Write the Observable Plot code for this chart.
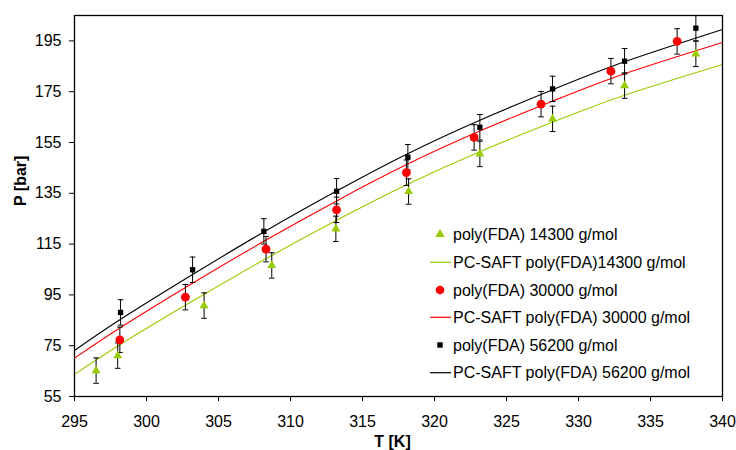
<!DOCTYPE html>
<html><head><meta charset="utf-8">
<script src="https://cdn.jsdelivr.net/npm/d3@7"></script>
<script src="https://cdn.jsdelivr.net/npm/@observablehq/plot@0.6"></script>
<style>
body{margin:0;background:#fff;}
#wrap{position:relative;width:736px;height:450px;font-family:"Liberation Sans",Arial,sans-serif;}
#legend{position:absolute;left:0;top:0;pointer-events:none;}
</style></head><body><div id="wrap"></div>
<script>
// Experimental data
const T14300 = [296.5, 298.0, 304.0, 308.7, 313.15, 318.2, 323.15, 328.2, 333.2, 338.15];
const P14300 = [65.2, 71.1, 90.8, 106.6, 121.0, 135.7, 150.5, 164.3, 177.4, 189.9];
const T30000 = [298.15, 302.7, 308.3, 313.2, 318.05, 322.75, 327.4, 332.25, 336.85];
const P30000 = [77.3, 94.1, 113.0, 128.5, 143.1, 157.0, 170.1, 183.1, 194.8];
const T56200 = [298.2, 303.2, 308.15, 313.2, 318.15, 323.15, 328.2, 333.2, 338.15];
const P56200 = [88.1, 104.9, 120.0, 135.8, 149.2, 161.0, 176.1, 187.0, 200.0];
const errP = 5;
// PC-SAFT curves
const Tfit = [295, 298.15, 303.2, 308.15, 313.2, 318.1, 323.15, 328.2, 333.2, 340];
const fit14300 = [63.7, 75.4, 92.6, 108.8, 124.4, 138.5, 151.4, 163.0, 173.6, 185.7];
const fit30000 = [70.1, 82.0, 99.6, 116.1, 132.0, 146.4, 159.5, 171.3, 182.1, 194.4];
const fit56200 = [73.1, 85.2, 103.0, 119.8, 135.9, 150.5, 163.8, 175.8, 186.8, 199.5];
// ticks
const xTicks = [295, 300, 305, 310, 315, 320, 325, 330, 335, 340];
const yTicks = [55, 75, 95, 115, 135, 155, 175, 195];
const legendLabels = [
  "poly(FDA) 14300 g/mol",
  "PC-SAFT poly(FDA)14300 g/mol",
  "poly(FDA) 30000 g/mol",
  "PC-SAFT poly(FDA) 30000 g/mol",
  "poly(FDA) 56200 g/mol",
  "PC-SAFT poly(FDA) 56200 g/mol"
];
const green = "#99cc00", red = "#ff0000", black = "#000000";

const pts = (T, P) => T.map((t, i) => ({T: t, P: P[i]}));
const d14 = pts(T14300, P14300), d30 = pts(T30000, P30000), d56 = pts(T56200, P56200);
const f14 = pts(Tfit, fit14300), f30 = pts(Tfit, fit30000), f56 = pts(Tfit, fit56200);
const allPts = [...d14, ...d30, ...d56];

const capSymbol = {draw(ctx, size) { const w = 2.8; ctx.moveTo(-w, 0); ctx.lineTo(w, 0); }};

const chart = Plot.plot({
  width: 736, height: 450,
  marginLeft: 74, marginRight: 14, marginTop: 15, marginBottom: 54,
  style: {fontFamily: "'Liberation Sans', Arial, sans-serif", fontSize: "16px", color: "#000", background: "#fff", overflow: "visible"},
  x: {domain: [295, 340]},
  y: {domain: [55, 205]},
  marks: [
    Plot.axisX({ticks: xTicks, tickSize: 5, tickPadding: 14, label: null, tickFormat: d => String(d), stroke: "#000"}),
    Plot.axisY({ticks: yTicks, tickSize: 5, tickPadding: 8, label: null, tickFormat: d => String(d), stroke: "#000"}),
    Plot.text(["T [K]"], {frameAnchor: "bottom", dy: 50, dx: -6, fontWeight: "bold", fontSize: 16}),
    Plot.text(["P [bar]"], {frameAnchor: "left", dx: -54, rotate: -90, fontWeight: "bold", fontSize: 16}),
    Plot.line(f14, {x: "T", y: "P", stroke: green, strokeWidth: 1.1, curve: "natural"}),
    Plot.line(f30, {x: "T", y: "P", stroke: red, strokeWidth: 1.1, curve: "natural"}),
    Plot.line(f56, {x: "T", y: "P", stroke: black, strokeWidth: 1.1, curve: "natural"}),
    Plot.ruleX(allPts, {x: "T", y1: d => d.P - errP, y2: d => d.P + errP, stroke: "#000", strokeWidth: 1}),
    Plot.dot(allPts, {x: "T", y: d => d.P - errP, symbol: capSymbol, r: 2, stroke: "#000", strokeWidth: 1, fill: "none"}),
    Plot.dot(allPts, {x: "T", y: d => d.P + errP, symbol: capSymbol, r: 2, stroke: "#000", strokeWidth: 1, fill: "none"}),
    Plot.dot(d14, {x: "T", y: "P", symbol: "triangle", r: 3.3, fill: green, stroke: "none"}),
    Plot.dot(d30, {x: "T", y: "P", symbol: "circle", r: 4.4, fill: red, stroke: "none"}),
    Plot.dot(d56, {x: "T", y: "P", symbol: "square", r: 3, fill: black, stroke: "none"}),
    Plot.frame({stroke: "#000", strokeWidth: 1.3})
  ]
});
const wrap = document.getElementById("wrap");
wrap.appendChild(chart);

// legend overlay
const rowY = [234.3, 262.3, 290, 317.3, 345, 372.7];
const lg = d3.select(wrap).append("svg").attr("id", "legend").attr("width", 736).attr("height", 450);
const sx = 440;
const tri = d3.symbol(d3.symbolTriangle, 38)();
lg.append("path").attr("d", tri).attr("transform", `translate(${sx},${rowY[0]})`).attr("fill", green);
lg.append("circle").attr("cx", sx).attr("cy", rowY[2]).attr("r", 4.3).attr("fill", red);
lg.append("rect").attr("x", sx - 2.7).attr("y", rowY[4] - 2.7).attr("width", 5.4).attr("height", 5.4).attr("fill", black);
[[1, green], [3, red], [5, black]].forEach(([i, c]) => {
  lg.append("line").attr("x1", 430).attr("x2", 451).attr("y1", rowY[i]).attr("y2", rowY[i]).attr("stroke", c).attr("stroke-width", 1.2);
});
legendLabels.forEach((t, i) => {
  lg.append("text").attr("x", 453).attr("y", rowY[i]).attr("dy", "0.35em")
    .attr("font-family", "'Liberation Sans', Arial, sans-serif").attr("font-size", 16).attr("fill", "#000").text(t);
});
</script>
</body></html>
